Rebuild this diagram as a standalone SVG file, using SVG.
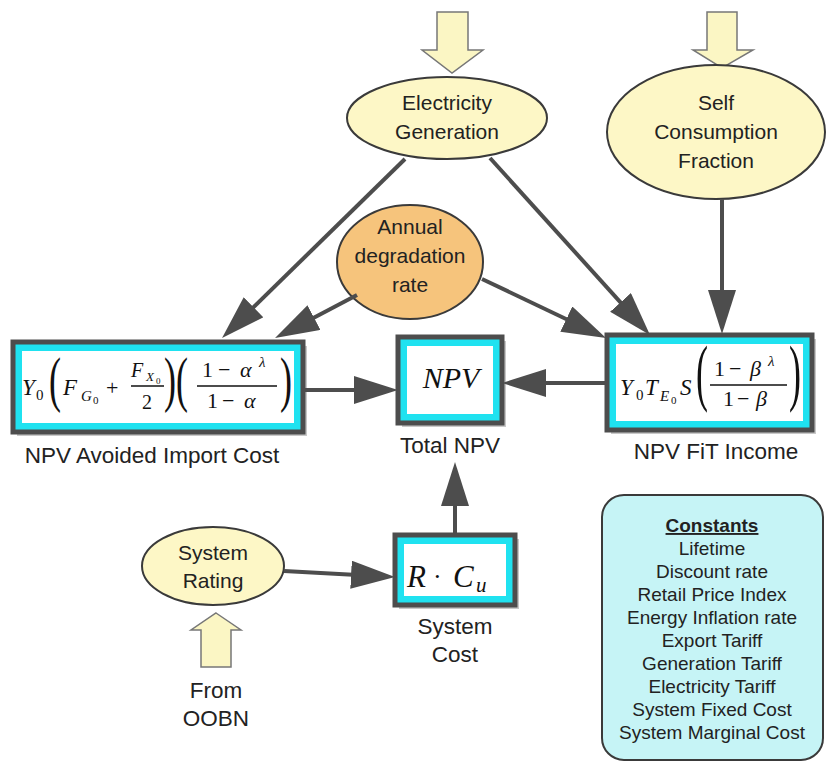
<svg xmlns="http://www.w3.org/2000/svg" width="827" height="765" viewBox="0 0 827 765">
<style>
.t{font-family:"Liberation Sans",Arial,sans-serif;font-size:21px;fill:#222;text-anchor:middle}
.l{font-family:"Liberation Sans",Arial,sans-serif;font-size:22.5px;fill:#222;text-anchor:middle}
.c{font-family:"Liberation Sans",Arial,sans-serif;font-size:19px;fill:#222;text-anchor:middle}
.m{font-family:"Liberation Serif","Times New Roman",serif;fill:#111}
.i{font-style:italic}
.z23{font-size:23px}
.z22{font-size:22px}
.z20{font-size:20px}
.z15{font-size:15px}
.z13{font-size:13px}
.z11{font-size:11px}
.z9{font-size:9px}
.par{font-family:"Liberation Serif","Times New Roman",serif;font-size:36px;fill:#111}
.ell{fill:#fdf7c6;stroke:#3a3a3a;stroke-width:2}
.blk{fill:#fbf6c4;stroke:#777;stroke-width:1.5}
.conn{stroke:#4d4d4d;stroke-width:4;fill:none;marker-end:url(#ah)}
.bo{fill:#1fe2f0;stroke:#4d4d4d;stroke-width:5}
.bi{fill:#fff}
.sh{fill:#9a9a9a;opacity:.55}
.fl{stroke:#111;stroke-width:1.4}
</style>
<defs>
<marker id="ah" markerUnits="userSpaceOnUse" markerWidth="46" markerHeight="30" refX="34" refY="14" orient="auto">
<path d="M0,0 L44,14 L0,28 z" fill="#4d4d4d"/>
</marker>
</defs>
<rect width="827" height="765" fill="#fff"/>

<g id="elec-gen">
<polygon class="blk" points="437,12 468,12 468,50 483,50 452,73 422,50 437,50"/>
<ellipse class="ell" cx="447" cy="118" rx="100" ry="41"/>
<text class="t" x="447" y="110">Electricity</text>
<text class="t" x="447" y="139">Generation</text>
</g>

<g id="self-consumption">
<polygon class="blk" points="707,12 737,12 737,50 753,50 722,68 693,50 707,50"/>
<ellipse class="ell" cx="716" cy="132" rx="109" ry="67"/>
<text class="t" x="716" y="110">Self</text>
<text class="t" x="716" y="139">Consumption</text>
<text class="t" x="716" y="168">Fraction</text>
</g>

<g id="degradation">
<ellipse cx="410" cy="262" rx="73" ry="57" fill="#f6c47c" stroke="#3a3a3a" stroke-width="2"/>
<text class="t" x="410" y="234">Annual</text>
<text class="t" x="410" y="263">degradation</text>
<text class="t" x="410" y="292">rate</text>
</g>

<g id="system-rating">
<ellipse class="ell" cx="213" cy="566" rx="71" ry="39"/>
<text class="t" x="213" y="560">System</text>
<text class="t" x="213" y="588">Rating</text>
<polygon class="blk" points="216,613 241,630 231,630 231,667 201,667 201,630 191,630"/>
<text class="l" x="216" y="698">From</text>
<text class="l" x="216" y="726">OOBN</text>
</g>

<g id="npv-avoided">
<rect class="sh" x="17" y="346" width="290" height="90"/>
<rect class="bo" x="13" y="342" width="290" height="90"/>
<rect class="bi" x="22" y="351" width="272" height="72"/>
<text class="m i z23" x="22" y="395">Y</text><text class="m z15" x="36" y="400">0</text>
<text class="par" transform="translate(49,400) scale(1,1.69)">(</text>
<text class="m i z23" x="63" y="395">F</text><text class="m i z15" x="81" y="401">G</text><text class="m z11" x="93" y="404">0</text>
<text class="m z22" x="106" y="395">+</text>
<text class="m i z20" x="131" y="377">F</text><text class="m i z13" x="146" y="381">X</text><text class="m z9" x="156" y="384">0</text>
<line class="fl" x1="131" y1="386" x2="164" y2="386"/>
<text class="m z20" x="142" y="409">2</text>
<text class="par" transform="translate(164,400) scale(1,1.69)">)</text>
<text class="par" transform="translate(176,400) scale(1,1.69)">(</text>
<text class="m z22" x="202" y="377">1</text><text class="m z22" x="218" y="377">−</text><text class="m i z22" x="240" y="377">α</text><text class="m i z15" x="259" y="367">λ</text>
<line class="fl" x1="197" y1="386" x2="277" y2="386"/>
<text class="m z22" x="207" y="408">1</text><text class="m z22" x="222" y="408">−</text><text class="m i z22" x="244" y="408">α</text>
<text class="par" transform="translate(280,400) scale(1,1.69)">)</text>
<text class="l" x="152" y="463">NPV Avoided Import Cost</text>
</g>

<g id="npv-fit">
<rect class="sh" x="611" y="339" width="205" height="95"/>
<rect class="bo" x="607" y="335" width="205" height="95"/>
<rect class="bi" x="616" y="344" width="187" height="77"/>
<text class="m i z23" x="620" y="395">Y</text><text class="m z15" x="636" y="400">0</text>
<text class="m i z23" x="645" y="395">T</text><text class="m i z15" x="660" y="401">E</text><text class="m z11" x="671" y="404">0</text>
<text class="m i z23" x="680" y="395">S</text>
<text class="par" transform="translate(696,397) scale(1,2.05)">(</text>
<text class="m z22" x="714" y="376">1</text><text class="m z22" x="729" y="376">−</text><text class="m i z22" x="750" y="376">β</text><text class="m i z15" x="768" y="366">λ</text>
<line class="fl" x1="710" y1="385" x2="787" y2="385"/>
<text class="m z22" x="723" y="406">1</text><text class="m z22" x="737" y="406">−</text><text class="m i z22" x="756" y="406">β</text>
<text class="par" transform="translate(789,397) scale(1,2.05)">)</text>
<text class="l" x="716" y="459">NPV FiT Income</text>
</g>

<g id="total-npv">
<rect class="sh" x="402" y="341" width="104" height="86"/>
<rect class="bo" x="398" y="337" width="104" height="86"/>
<rect class="bi" x="407" y="346" width="86" height="68"/>
<text class="m i" x="451" y="388" style="font-size:30px" text-anchor="middle">NPV</text>
<text class="l" x="450" y="453">Total NPV</text>
</g>

<g id="system-cost">
<rect class="sh" x="399" y="539" width="120" height="70"/>
<rect class="bo" x="395" y="535" width="120" height="70"/>
<rect class="bi" x="404" y="544" width="102" height="52"/>
<text class="m i" x="407" y="587" style="font-size:31px">R</text>
<text class="m" x="433" y="585" style="font-size:26px">·</text>
<text class="m i" x="453" y="587" style="font-size:31px">C</text>
<text class="m i" x="476" y="592" style="font-size:21px">u</text>
<text class="l" x="455" y="634">System</text>
<text class="l" x="455" y="662">Cost</text>
</g>

<g id="constants">
<rect x="602" y="495" width="221" height="265" rx="22" fill="#c6f4f6" stroke="#3a3a3a" stroke-width="2"/>
<text class="c" x="712" y="532" font-weight="bold" text-decoration="underline">Constants</text>
<text class="c" x="712" y="555">Lifetime</text>
<text class="c" x="712" y="578">Discount rate</text>
<text class="c" x="712" y="601">Retail Price Index</text>
<text class="c" x="712" y="624">Energy Inflation rate</text>
<text class="c" x="712" y="647">Export Tariff</text>
<text class="c" x="712" y="670">Generation Tariff</text>
<text class="c" x="712" y="693">Electricity Tariff</text>
<text class="c" x="712" y="716">System Fixed Cost</text>
<text class="c" x="712" y="739">System Marginal Cost</text>
</g>

<g id="connectors">
<line class="conn" x1="405" y1="159" x2="229.2" y2="331"/>
<line class="conn" x1="490" y1="158" x2="643.3" y2="327.6"/>
<line class="conn" x1="357" y1="295" x2="283.9" y2="333.4"/>
<line class="conn" x1="482" y1="279" x2="597" y2="333.7"/>
<line class="conn" x1="722" y1="199" x2="722" y2="324"/>
<line class="conn" x1="303" y1="390" x2="388" y2="390"/>
<line class="conn" x1="607" y1="383" x2="512" y2="383"/>
<line class="conn" x1="455" y1="535" x2="455" y2="472"/>
<line class="conn" x1="284" y1="571" x2="385" y2="576.5"/>
</g>
</svg>
